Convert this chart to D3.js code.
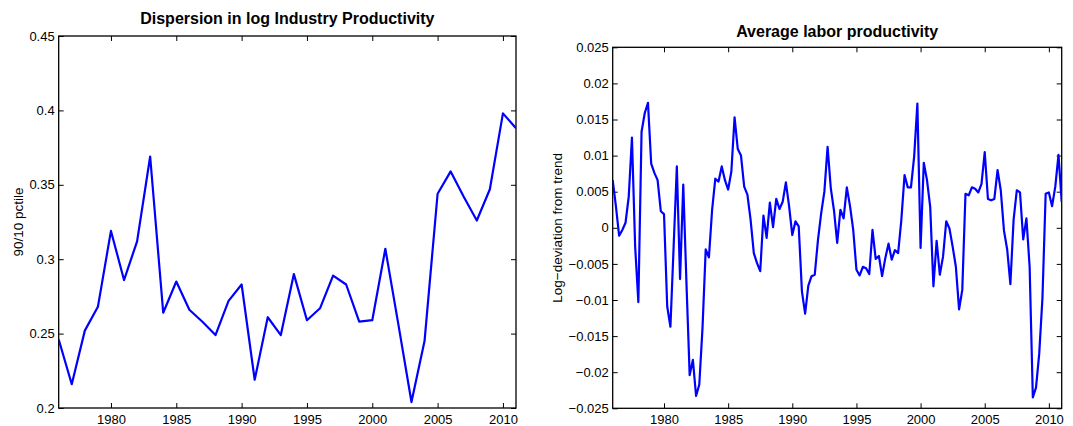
<!DOCTYPE html>
<html>
<head>
<meta charset="utf-8">
<script src="https://cdn.jsdelivr.net/npm/d3@7"></script>
<style>
  body { margin: 0; background: #fff; }
  svg { display: block; }
  text { font-family: "Liberation Sans", Arial, Helvetica, sans-serif; fill: #000; }
</style>
</head>
<body>
<svg id="chart" width="1073" height="426"></svg>
<script>
// ---- Data ----
const dispYears = d3.range(1976, 2012);
const dispValues = [0.246, 0.216, 0.252, 0.268, 0.319, 0.286, 0.312, 0.369, 0.264, 0.285,
  0.266, 0.258, 0.249, 0.272, 0.283, 0.219, 0.261, 0.249, 0.290, 0.259,
  0.267, 0.289, 0.283, 0.258, 0.259, 0.307, 0.256, 0.204, 0.245, 0.344,
  0.359, 0.342, 0.326, 0.347, 0.398, 0.388];

const alpStart = 1976; // quarterly from 1976Q1
const alpValues = [
  0.0066, 0.0030, -0.0011, -0.0003, 0.0007, 0.0043, 0.0125, -0.0026, -0.0103, 0.0133,
  0.0159, 0.0173, 0.0089, 0.0076, 0.0066, 0.0023, 0.0019, -0.0109, -0.0137, -0.0026,
  0.0085, -0.0071, 0.0060, -0.0077, -0.0204, -0.0183, -0.0233, -0.0217, -0.0139, -0.0030,
  -0.0041, 0.0025, 0.0068, 0.0064, 0.0085, 0.0066, 0.0053, 0.0078, 0.0153, 0.0109,
  0.0100, 0.0057, 0.0046, 0.0011, -0.0035, -0.0049, -0.0060, 0.0017, -0.0014, 0.0035,
  0.0001, 0.0040, 0.0026, 0.0036, 0.0063, 0.0030, -0.0010, 0.0009, 0.0002, -0.0088,
  -0.0119, -0.0080, -0.0067, -0.0065, -0.0017, 0.0020, 0.0050, 0.0112, 0.0055, 0.0024,
  -0.0021, 0.0025, 0.0013, 0.0056, 0.0030, -0.0003, -0.0058, -0.0066, -0.0054, -0.0056,
  -0.0064, -0.0003, -0.0043, -0.0039, -0.0067, -0.0042, -0.0022, -0.0044, -0.0031, -0.0035,
  0.0011, 0.0073, 0.0056, 0.0056, 0.0099, 0.0172, -0.0028, 0.0090, 0.0066, 0.0029,
  -0.0081, -0.0018, -0.0065, -0.0040, 0.0009, -0.0001, -0.0026, -0.0054, -0.0113, -0.0086,
  0.0047, 0.0045, 0.0056, 0.0054, 0.0049, 0.0061, 0.0105, 0.0040, 0.0038, 0.0040,
  0.0080, 0.0052, -0.0004, -0.0030, -0.0078, 0.0011, 0.0052, 0.0049, -0.0016, 0.0013,
  -0.0054, -0.0235, -0.0221, -0.0174, -0.0097, 0.0047, 0.0049, 0.0030, 0.0057, 0.0101,
  0.0036];

const xTickYears = [1980, 1985, 1990, 1995, 2000, 2005, 2010];
const leftYTicks = [0.2, 0.25, 0.3, 0.35, 0.4, 0.45];
const leftYLabels = ["0.2", "0.25", "0.3", "0.35", "0.4", "0.45"];
const rightYTicks = [-0.025, -0.02, -0.015, -0.01, -0.005, 0, 0.005, 0.01, 0.015, 0.02, 0.025];
const rightYLabels = ["\u22120.025", "\u22120.02", "\u22120.015", "\u22120.01", "\u22120.005", "0",
  "0.005", "0.01", "0.015", "0.02", "0.025"];

const svg = d3.select("#chart");

function panel(opts) {
  const { left, right, top, bottom, xDomain, yDomain, yTicks, yLabels, data, title, titleY, ylabel, ylabelX, id } = opts;
  const x = d3.scaleLinear().domain(xDomain).range([left, right]);
  const y = d3.scaleLinear().domain(yDomain).range([bottom, top]);
  const g = svg.append("g");
  const tl = 5;

  svg.append("clipPath").attr("id", id).append("rect")
    .attr("x", left).attr("y", top).attr("width", right - left).attr("height", bottom - top);

  const bx = g.append("g").attr("transform", `translate(0,${bottom})`)
    .call(d3.axisBottom(x).tickValues(xTickYears).tickFormat(d3.format("d")).tickSizeInner(-tl).tickSizeOuter(0));
  const tx = g.append("g").attr("transform", `translate(0,${top})`)
    .call(d3.axisTop(x).tickValues(xTickYears).tickFormat("").tickSizeInner(-tl).tickSizeOuter(0));
  const ly = g.append("g").attr("transform", `translate(${left},0)`)
    .call(d3.axisLeft(y).tickValues(yTicks).tickFormat((d, i) => yLabels[i]).tickSizeInner(-tl).tickSizeOuter(0).tickPadding(4));
  const ry = g.append("g").attr("transform", `translate(${right},0)`)
    .call(d3.axisRight(y).tickValues(yTicks).tickFormat("").tickSizeInner(-tl).tickSizeOuter(0));
  [bx, tx, ly, ry].forEach(a => {
    a.select(".domain").remove();
    a.selectAll("line").attr("stroke", "#000").attr("stroke-width", 1);
    a.selectAll("text").attr("font-size", 13).attr("fill", "#000")
      .attr("font-family", "'Liberation Sans', Arial, Helvetica, sans-serif");
  });
  bx.selectAll("text").attr("dy", null).attr("y", 16);

  g.append("rect").attr("x", left).attr("y", top).attr("width", right - left).attr("height", bottom - top)
    .attr("fill", "none").attr("stroke", "#000").attr("stroke-width", 1.3);

  const line = d3.line().x(d => x(d[0])).y(d => y(d[1]));
  g.append("path").datum(data).attr("d", line)
    .attr("clip-path", `url(#${id})`)
    .attr("fill", "none").attr("stroke", "#0000ff").attr("stroke-width", 2.2).attr("stroke-linejoin", "round");

  g.append("text").attr("x", (left + right) / 2).attr("y", titleY)
    .attr("text-anchor", "middle").attr("font-size", 16).attr("font-weight", "bold").text(title);
  g.append("text").attr("transform", `translate(${ylabelX},${(top + bottom) / 2}) rotate(-90)`)
    .attr("text-anchor", "middle").attr("font-size", 13.5).text(ylabel);
}

panel({
  id: "clipL", left: 58.7, right: 516, top: 36, bottom: 408,
  xDomain: [1976, 2011], yDomain: [0.2, 0.45],
  yTicks: leftYTicks, yLabels: leftYLabels,
  data: dispYears.map((yr, i) => [yr, dispValues[i]]),
  title: "Dispersion in log Industry Productivity", titleY: 24,
  ylabel: "90/10 pctile", ylabelX: 23
});

panel({
  id: "clipR", left: 612.7, right: 1061.7, top: 47.3, bottom: 408.3,
  xDomain: [1976, 2011], yDomain: [-0.025, 0.025],
  yTicks: rightYTicks, yLabels: rightYLabels,
  data: alpValues.map((v, i) => [alpStart + i / 4, v]),
  title: "Average labor productivity", titleY: 37,
  ylabel: "Log\u2212deviation from trend", ylabelX: 562
});
</script>
</body>
</html>
